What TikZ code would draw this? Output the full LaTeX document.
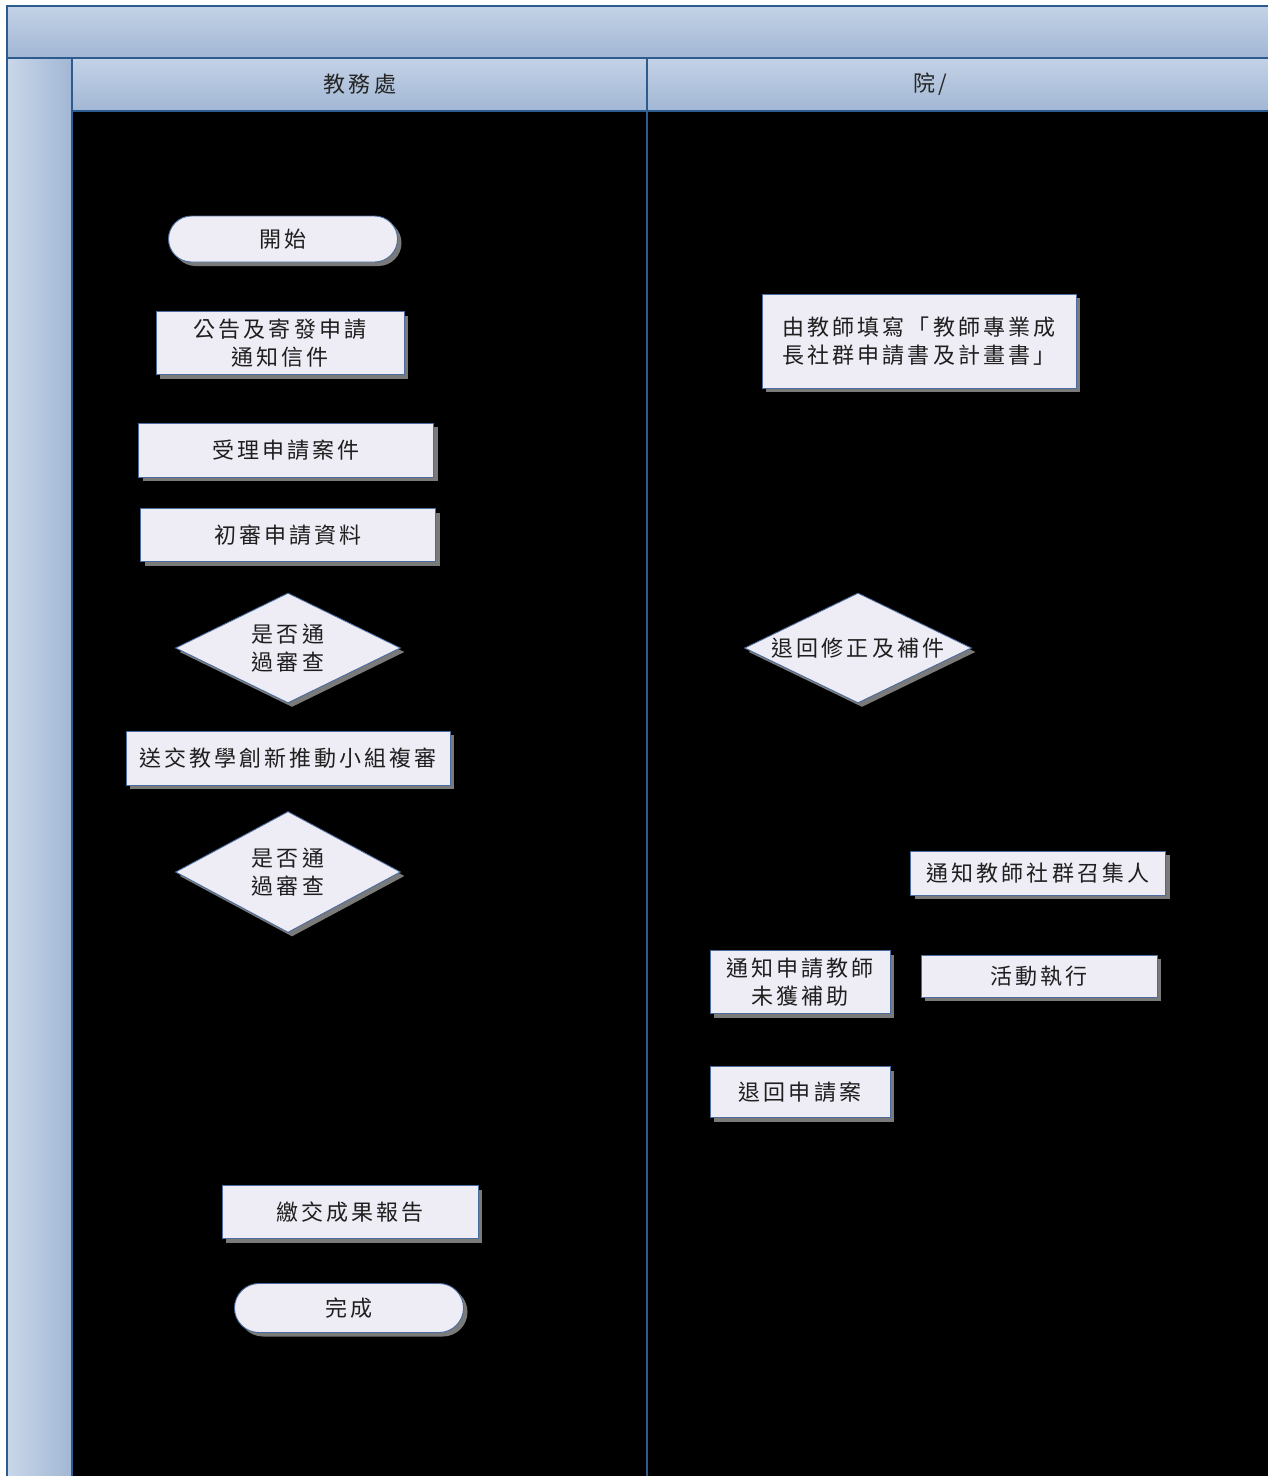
\documentclass[tikz,border=0pt]{standalone}
\usepackage{fontspec}
\newfontfamily\cjk{Noto Sans CJK TC}[LetterSpace=14]
\usetikzlibrary{shapes.geometric,shapes.misc,shadows}
\definecolor{hdrtop}{HTML}{C3D2E6}
\definecolor{hdrbot}{HTML}{A2B7D5}
\definecolor{frameblue}{HTML}{2D5B8E}
\definecolor{nodefill}{HTML}{EEEDF5}
\definecolor{nodeedge}{HTML}{4A6C9E}
\definecolor{shadowgray}{HTML}{7A7A7A}
\begin{document}
\begin{tikzpicture}[x=1pt,y=-1pt,
  every node/.style={font=\cjk\fontsize{22}{28}\selectfont, text=black!88},
  base/.style={draw=nodeedge, line width=0.9pt, fill=nodefill, inner sep=0pt, align=center,
    drop shadow={shadow xshift=4pt, shadow yshift=-4pt, fill=shadowgray, opacity=1}},
  procbox/.style={base, rectangle},
  termbox/.style={base, rounded rectangle},
  decbox/.style={base, diamond, aspect=2},
  hdrtext/.style={font=\cjk\fontsize{22}{26}\selectfont, text=black!85}]
\useasboundingbox (0,0) rectangle (1268,1476);
% frame and headers
\shade[top color=hdrtop, bottom color=hdrbot] (7,6) rectangle (1268,58);
\shade[left color=hdrtop!90!white, right color=hdrbot] (7,58) rectangle (72,1476);
\shade[top color=hdrtop, bottom color=hdrbot] (72,58) rectangle (1268,111);
\fill[black] (72,111) rectangle (1268,1476);
\draw[frameblue, line width=1.6pt] (7,1476) -- (7,6) -- (1268,6);
\draw[frameblue, line width=1.6pt] (7,58) -- (1268,58);
\draw[frameblue, line width=1.6pt] (72,58) -- (72,1476);
\draw[frameblue, line width=1.6pt] (72,111) -- (1268,111);
\draw[frameblue, line width=1.4pt] (647,58) -- (647,1476);
\node[hdrtext] (lane1) at (360,84) {教務處};
\node[hdrtext] (lane2) at (930,84) {院/};
% left lane
\node[termbox, minimum width=229pt, minimum height=46pt] (start) at (283,239) {開始};
\node[procbox, minimum width=248pt, minimum height=63pt] (notice) at (280,343) {公告及寄發申請\\通知信件};
\node[procbox, minimum width=295pt, minimum height=54pt] (accept) at (286,450) {受理申請案件};
\node[procbox, minimum width=295pt, minimum height=53pt] (prelim) at (288,535) {初審申請資料};
\node[decbox, minimum width=225pt, minimum height=110pt] (dec1) at (288,648) {是否通\\過審查};
\node[procbox, minimum width=324pt, minimum height=54pt] (review) at (288,758) {送交教學創新推動小組複審};
\node[decbox, minimum width=225pt, minimum height=121pt] (dec2) at (288,872) {是否通\\過審查};
\node[procbox, minimum width=256pt, minimum height=53pt] (report) at (350,1212) {繳交成果報告};
\node[termbox, minimum width=229pt, minimum height=49pt] (done) at (349,1308) {完成};
% right lane
\node[procbox, minimum width=314pt, minimum height=94pt] (fill) at (919,341) {由教師填寫「教師專業成\\長社群申請書及計畫書」};
\node[decbox, minimum width=227pt, minimum height=110pt] (revise) at (858,648) {退回修正及補件};
\node[procbox, minimum width=255pt, minimum height=44pt] (convener) at (1038,873) {通知教師社群召集人};
\node[procbox, minimum width=180pt, minimum height=63pt] (nofund) at (800,982) {通知申請教師\\未獲補助};
\node[procbox, minimum width=236pt, minimum height=42pt] (activity) at (1039,976) {活動執行};
\node[procbox, minimum width=180pt, minimum height=51pt] (reject) at (800,1092) {退回申請案};
\end{tikzpicture}
\end{document}
